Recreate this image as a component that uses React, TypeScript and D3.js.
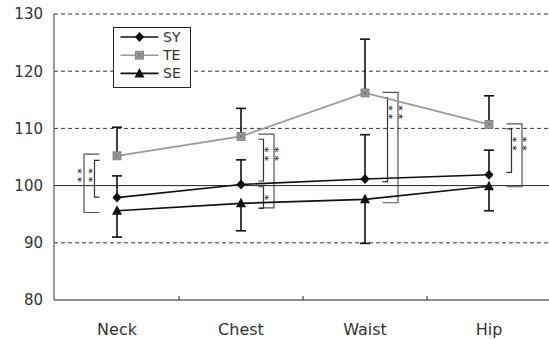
import React, { useEffect, useRef } from "react";
import * as d3 from "d3";

// 데이터
const categories = ["Neck", "Chest", "Waist", "Hip"];
const syMean = [97.9, 100.2, 101.15, 101.9];
const syUpper = [101.7, 104.5, 108.9, 106.2];
const teMean = [105.2, 108.6, 116.2, 110.7];
const teUpper = [110.2, 113.5, 125.6, 115.7];
const seMean = [95.6, 96.9, 97.6, 99.9];
const seLower = [91.0, 92.1, 89.9, 95.6];
const yTicks = [80, 90, 100, 110, 120, 130];
const legendNames = ["SY", "TE", "SE"];

// 유의성 표시 (category, low value, high value, label, level: 0 inner / 1 outer)
const brackets = [
  { cat: "Neck", lo: 98.0, hi: 104.4, label: "**", level: 0 },
  { cat: "Neck", lo: 95.3, hi: 105.5, label: "**", level: 1 },
  { cat: "Chest", lo: 100.8, hi: 108.1, label: "**", level: 0 },
  { cat: "Chest", lo: 96.1, hi: 109.0, label: "**", level: 1 },
  { cat: "Chest", lo: 96.0, hi: 99.8, label: "*", level: 0 },
  { cat: "Waist", lo: 100.7, hi: 115.4, label: "**", level: 0 },
  { cat: "Waist", lo: 97.0, hi: 116.3, label: "**", level: 1 },
  { cat: "Hip", lo: 102.3, hi: 109.9, label: "**", level: 0 },
  { cat: "Hip", lo: 99.8, hi: 110.8, label: "**", level: 1 },
];

const W = 549;
const H = 340;
const FONT = "DejaVu Sans, sans-serif";

const diamond = (cx: number, cy: number) =>
  `M${cx},${cy - 5}L${cx + 4.6},${cy}L${cx},${cy + 5}L${cx - 4.6},${cy}Z`;
const triangle = (cx: number, cy: number) =>
  `M${cx},${cy - 5.5}L${cx + 5},${cy + 4}L${cx - 5},${cy + 4}Z`;

const App = () => {
  const svgRef = useRef<SVGSVGElement>(null);

  useEffect(() => {
    const svg = d3.select(svgRef.current);
    svg.selectAll("*").remove();

    const x = d3.scaleBand().domain(categories).range([55, 551]);
    const cx = (c: string) => (x(c) as number) + x.bandwidth() / 2;
    const y = d3.scaleLinear().domain([80, 130]).range([300, 14]);

    // 그리드
    yTicks
      .filter((t) => t !== 80)
      .forEach((t) => {
        svg
          .append("line")
          .attr("x1", 54)
          .attr("x2", W)
          .attr("y1", y(t))
          .attr("y2", y(t))
          .attr("stroke", t === 100 ? "#222" : "#333")
          .attr("stroke-width", 1)
          .attr("stroke-dasharray", t === 100 ? null : "4,3");
      });

    // 축
    svg.append("line").attr("x1", 54).attr("x2", 54).attr("y1", y(130)).attr("y2", y(80))
      .attr("stroke", "#555").attr("stroke-width", 1.2);
    svg.append("line").attr("x1", 54).attr("x2", W).attr("y1", y(80)).attr("y2", y(80))
      .attr("stroke", "#222").attr("stroke-width", 1.2);
    categories.slice(1).forEach((c) => {
      svg.append("line").attr("x1", x(c)).attr("x2", x(c)).attr("y1", y(80)).attr("y2", y(80) - 4)
        .attr("stroke", "#222").attr("stroke-width", 1);
    });

    svg.append("g")
      .selectAll("text")
      .data(yTicks)
      .enter()
      .append("text")
      .attr("x", 43)
      .attr("y", (d) => y(d))
      .attr("dy", "0.36em")
      .attr("text-anchor", "end")
      .attr("font-family", FONT)
      .attr("font-size", 15)
      .attr("fill", "#333")
      .text((d) => d);

    svg.append("g")
      .selectAll("text")
      .data(categories)
      .enter()
      .append("text")
      .attr("x", (d) => cx(d))
      .attr("y", 335)
      .attr("text-anchor", "middle")
      .attr("font-family", FONT)
      .attr("font-size", 16)
      .attr("fill", "#333")
      .text((d) => d);

    // 유의성 괄호
    const bg = svg.append("g");
    const catBrackets = (c: string) => brackets.filter((b) => b.cat === c);
    const fs = 11;
    brackets.forEach((b) => {
      const side = b.cat === "Neck" ? -1 : 1;
      const xc = cx(b.cat);
      const xv = xc + side * (b.level === 0 ? 22.5 : 33);
      const xt = xc + side * 17.5;
      const y1 = y(b.hi);
      const y2 = y(b.lo);
      bg.append("path")
        .attr("d", `M${xt},${y1}H${xv}V${y2}H${xt}`)
        .attr("fill", "none")
        .attr("stroke", b.level === 0 ? "#333" : "#555")
        .attr("stroke-width", 1.2);

      // 첫 별표 중심 y
      let y0: number;
      if (y2 - y1 < 30) {
        y0 = (y1 + y2) / 2;
      } else {
        const ref = catBrackets(b.cat)
          .filter((o) => o.level === 0)
          .reduce((m, o) => Math.max(m, o.hi), -Infinity);
        y0 = y(ref) + 10.5;
      }
      // 세로로 쓴 별표 (90도 회전)
      const gx = xv + side * 3.5 - 0.575 * fs;
      const gy = y0 - 0.25 * fs;
      bg.append("text")
        .attr("transform", `translate(${gx},${gy}) rotate(90)`)
        .attr("font-family", FONT)
        .attr("font-size", fs)
        .attr("letter-spacing", 3)
        .attr("fill", "#111")
        .text(b.label);
    });

    // 선
    const line = d3
      .line<number>()
      .x((_, i) => cx(categories[i]))
      .y((d) => y(d));

    // 오차막대
    const errBars = (mean: number[], end: number[]) => {
      mean.forEach((m, i) => {
        const xx = cx(categories[i]);
        svg.append("line").attr("x1", xx).attr("x2", xx).attr("y1", y(m)).attr("y2", y(end[i]))
          .attr("stroke", "#111").attr("stroke-width", 1.6);
        svg.append("line").attr("x1", xx - 5).attr("x2", xx + 5).attr("y1", y(end[i])).attr("y2", y(end[i]))
          .attr("stroke", "#111").attr("stroke-width", 1.6);
      });
    };
    errBars(teMean, teUpper);
    errBars(syMean, syUpper);
    errBars(seMean, seLower);

    svg.append("path").attr("d", line(teMean)).attr("fill", "none").attr("stroke", "#9a9a9a").attr("stroke-width", 1.8);
    svg.append("path").attr("d", line(syMean)).attr("fill", "none").attr("stroke", "#111").attr("stroke-width", 1.6);
    svg.append("path").attr("d", line(seMean)).attr("fill", "none").attr("stroke", "#111").attr("stroke-width", 1.6);

    const square = (g: any, px: number, py: number) => {
      g.append("rect").attr("x", px - 4).attr("y", py - 4).attr("width", 8).attr("height", 8)
        .attr("fill", "#9c9c9c").attr("stroke", "#777").attr("stroke-width", 0.8);
      g.append("path").attr("d", `M${px - 2.5},${py - 2.5}L${px + 2.5},${py + 2.5}M${px + 2.5},${py - 2.5}L${px - 2.5},${py + 2.5}`)
        .attr("stroke", "#666").attr("stroke-width", 0.8);
    };

    teMean.forEach((v, i) => square(svg, cx(categories[i]), y(v)));
    syMean.forEach((v, i) => {
      svg.append("path").attr("d", diamond(cx(categories[i]), y(v))).attr("fill", "#111");
    });
    seMean.forEach((v, i) => {
      svg.append("path").attr("d", triangle(cx(categories[i]), y(v))).attr("fill", "#111");
    });

    // 범례
    const lg = svg.append("g");
    lg.append("rect").attr("x", 113.5).attr("y", 27.5).attr("width", 77).attr("height", 60)
      .attr("fill", "#fff").attr("stroke", "#222").attr("stroke-width", 1);
    legendNames.forEach((name, i) => {
      const ly = 37 + i * 18.2;
      lg.append("line").attr("x1", 120.5).attr("x2", 158.5).attr("y1", ly).attr("y2", ly)
        .attr("stroke", i === 1 ? "#9a9a9a" : "#111").attr("stroke-width", 1.6);
      if (i === 0) lg.append("path").attr("d", diamond(139.5, ly)).attr("fill", "#111");
      if (i === 1) square(lg, 139.5, ly);
      if (i === 2) lg.append("path").attr("d", triangle(139.5, ly)).attr("fill", "#111");
      lg.append("text").attr("x", 163).attr("y", ly).attr("dy", "0.36em")
        .attr("font-family", FONT).attr("font-size", 14).attr("fill", "#333").text(name);
    });
  }, []);

  return (
    <svg
      ref={svgRef}
      width={W}
      height={H}
      style={{ position: "absolute", left: 0, top: 0, background: "#fff" }}
    ></svg>
  );
};

export default App;
